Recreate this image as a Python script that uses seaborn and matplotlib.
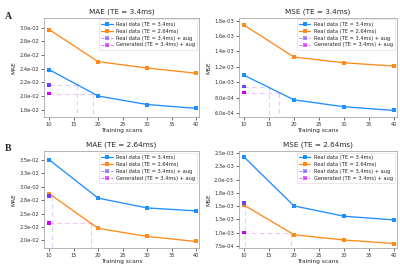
import numpy as np
import pandas as pd
import seaborn as sns
import matplotlib
matplotlib.use("Agg")
import matplotlib.pyplot as plt
from matplotlib.ticker import FormatStrFormatter, MultipleLocator

sns.set_style("ticks")
plt.rcParams['font.family'] = ['DejaVu Sans']

scans = [10, 20, 30, 40]

# Panel A (TE = 3.4ms)
a_mae_real34 = [0.02386, 0.0200, 0.01875, 0.01819]
a_mae_real264 = [0.02975, 0.02504, 0.0241, 0.02334]
a_mae_aug_real = 0.02162
a_mae_aug_gen = 0.02036
a_mae_cross = [15.7, 19.0]

a_mse_real34 = [0.001090, 0.000770, 0.000680, 0.000632]
a_mse_real264 = [0.001742, 0.001326, 0.001252, 0.001209]
a_mse_aug_real = 0.000941
a_mse_aug_gen = 0.000865
a_mse_cross = [14.9, 17.1]

# Panel B (TE = 2.64ms)
b_mae_real34 = [0.0350, 0.02787, 0.02605, 0.02550]
b_mae_real264 = [0.02872, 0.02225, 0.02076, 0.01981]
b_mae_aug_real = 0.02830
b_mae_aug_gen = 0.02326
b_mae_cross = [10.6, 18.6]

b_mse_real34 = [0.002430, 0.001505, 0.001310, 0.001240]
b_mse_real264 = [0.001520, 0.000960, 0.000860, 0.000794]
b_mse_aug_real = 0.001560
b_mse_aug_gen = 0.001000
b_mse_cross = [10.1, 19.4]

labels = ["Real data (TE = 3.4ms)", "Real data (TE = 2.64ms)",
          "Real data (TE = 3.4ms) + aug", "Generated (TE = 3.4ms) + aug"]
titles = ["MAE (TE = 3.4ms)", "MSE (TE = 3.4ms)", "MAE (TE = 2.64ms)", "MSE (TE = 2.64ms)"]

C_BLUE = "#1e8fff"
C_ORANGE = "#ff8a1c"
C_PURP = "#7040ff"
C_MAG = "#cc00ff"

fig = plt.figure(figsize=(4.0, 2.68), dpi=100)
positions = [
    [0.11, 0.563, 0.3875, 0.370],
    [0.597, 0.563, 0.395, 0.370],
    [0.11, 0.074, 0.3875, 0.362],
    [0.597, 0.074, 0.395, 0.362],
]

panels = [
    (a_mae_real34, a_mae_real264, a_mae_aug_real, a_mae_aug_gen, a_mae_cross, "MAE", 0.002, (0.0169, 0.03145)),
    (a_mse_real34, a_mse_real264, a_mse_aug_real, a_mse_aug_gen, a_mse_cross, "MSE", 0.0002, (0.000545, 0.001835)),
    (b_mae_real34, b_mae_real264, b_mae_aug_real, b_mae_aug_gen, b_mae_cross, "MAE", 0.0025, (0.01857, 0.0366)),
    (b_mse_real34, b_mse_real264, b_mse_aug_real, b_mse_aug_gen, b_mse_cross, "MSE", 0.00025, (0.000706, 0.00254)),
]

for i, (r34, r264, ar, ag, cross, ylab, step, ylim) in enumerate(panels):
    ax = fig.add_axes(positions[i])
    df = pd.DataFrame({"scans": scans * 2,
                       "val": r34 + r264,
                       "series": [labels[0]] * 4 + [labels[1]] * 4})
    sns.lineplot(data=df, x="scans", y="val", hue="series",
                 palette=[C_BLUE, C_ORANGE], marker="s", markersize=3.0,
                 markeredgewidth=0, linewidth=0.95, ax=ax, legend=False)
    ylo = ylim[0]
    for val, xc, col, lab in [(ar, cross[0], C_PURP, labels[2]), (ag, cross[1], C_MAG, labels[3])]:
        ax.plot([scans[0], xc], [val, val], ls=(0, (4, 3)), lw=0.8, color=col, alpha=0.25)
        ax.plot([xc, xc], [val, ylo], ls=(0, (4, 3)), lw=0.8, color=col, alpha=0.25)
        sns.scatterplot(x=[scans[0]], y=[val], marker="s", s=6, color=col,
                        edgecolor="none", ax=ax, zorder=5)
    ax.set_ylim(*ylim)
    ax.set_xlim(8.95, 40.6)
    ax.xaxis.set_major_locator(MultipleLocator(5))
    ax.yaxis.set_major_locator(MultipleLocator(step))
    ax.yaxis.set_major_formatter(FormatStrFormatter('%.1e'))
    ax.tick_params(labelsize=3.7, length=2, width=0.5, pad=1.5, colors="#333333")
    for s in ax.spines.values():
        s.set_linewidth(0.5)
        s.set_color("#999999")
    ax.set_title(titles[i], fontsize=5.2, pad=3)
    ax.set_xlabel("Training scans", fontsize=4.2, labelpad=1)
    ax.set_ylabel(ylab, fontsize=4.2, labelpad=2)
    handles = [
        plt.Line2D([], [], color=C_BLUE, marker="s", markersize=2.8, markeredgewidth=0, lw=0.9),
        plt.Line2D([], [], color=C_ORANGE, marker="s", markersize=2.8, markeredgewidth=0, lw=0.9),
        plt.Line2D([], [], color=C_PURP, marker="s", markersize=2.3, markeredgewidth=0, lw=0.7,
                   ls=(0, (3, 2)), alpha=0.9),
        plt.Line2D([], [], color=C_MAG, marker="s", markersize=2.3, markeredgewidth=0, lw=0.7,
                   ls=(0, (3, 2)), alpha=0.9),
    ]
    leg = ax.legend(handles, labels, loc="upper right", fontsize=3.7, frameon=True,
                    borderpad=0.5, labelspacing=0.35, handlelength=2.2, handletextpad=0.6,
                    borderaxespad=0.3)
    leg.get_frame().set_linewidth(0.4)
    leg.get_frame().set_edgecolor("#cccccc")
    for lh in leg.get_lines()[2:]:
        lh.set_alpha(0.6)

fig.text(0.012, 0.93, "A", fontsize=7, fontweight="bold", family="Liberation Serif")
fig.text(0.012, 0.435, "B", fontsize=7, fontweight="bold", family="Liberation Serif")

fig.savefig("out.png", dpi=100, facecolor="white")
